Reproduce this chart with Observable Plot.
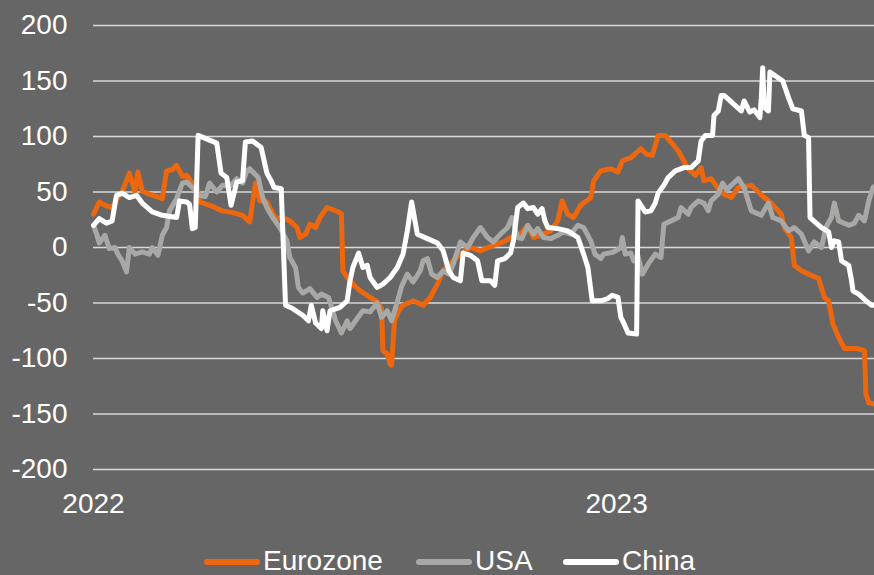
<!DOCTYPE html>
<html>
<head>
<meta charset="utf-8">
<script src="https://cdn.jsdelivr.net/npm/d3@7"></script>
<script src="https://cdn.jsdelivr.net/npm/@observablehq/plot@0.6"></script>
<style>
  html, body { margin: 0; padding: 0; background: #666666; }
  #wrap { position: relative; width: 874px; height: 575px; background: #666666; overflow: hidden; font-family: "Liberation Sans", Arial, sans-serif; }
  .sw { position: absolute; height: 6px; border-radius: 3px; top: 559px; }
  .lt { position: absolute; top: 547px; font-size: 28px; line-height: 28px; color: #ffffff; white-space: nowrap; }
</style>
</head>
<body>
<div id="wrap"></div>
<script>
// ---- Data ----
const seriesNames = ["Eurozone", "USA", "China"];
const seriesColors = ["#ec670e", "#a8a8a6", "#ffffff"];
const yTicks = [-200, -150, -100, -50, 0, 50, 100, 150, 200];
const xTickDates = ["2022-01-01", "2023-01-01"];
const xTickLabels = ["2022", "2023"];

const eurozone = [
  ["2022-01-01",30],["2022-01-05",41],["2022-01-09",38],["2022-01-14",36],["2022-01-18",45],["2022-01-21",50],
  ["2022-01-26",67],["2022-01-30",50],["2022-02-01",68],["2022-02-04",51],["2022-02-09",48],["2022-02-18",44],
  ["2022-02-21",69],["2022-02-25",70],["2022-02-28",74],["2022-03-04",64],["2022-03-07",65],["2022-03-11",58],
  ["2022-03-14",57],["2022-03-16",41],["2022-03-23",38],["2022-04-01",33],["2022-04-10",31],["2022-04-15",29],
  ["2022-04-20",23],["2022-04-24",58],["2022-04-27",42],["2022-05-02",41],["2022-05-08",26],["2022-05-13",27],
  ["2022-05-18",24],["2022-05-23",18],["2022-05-25",9],["2022-05-29",12],["2022-06-01",21],["2022-06-05",18],
  ["2022-06-08",27],["2022-06-13",36],["2022-06-21",32],["2022-06-23",30],["2022-06-24",-21],["2022-06-27",-27],
  ["2022-07-01",-33],["2022-07-06",-39],["2022-07-13",-45],["2022-07-18",-49],["2022-07-21",-55],["2022-07-22",-93],
  ["2022-07-25",-96],["2022-07-27",-105],["2022-07-28",-106],["2022-07-30",-66],["2022-08-02",-57],["2022-08-05",-52],
  ["2022-08-12",-48],["2022-08-19",-52],["2022-08-24",-45],["2022-08-29",-33],["2022-09-02",-21],["2022-09-09",-12],
  ["2022-09-14",-6],["2022-09-21",0],["2022-09-28",-3],["2022-10-07",2],["2022-10-14",5],["2022-10-19",9],
  ["2022-10-26",12],["2022-10-31",20],["2022-11-04",9],["2022-11-09",11],["2022-11-16",15],["2022-11-21",24],
  ["2022-11-24",42],["2022-11-28",30],["2022-12-02",27],["2022-12-07",38],["2022-12-14",45],["2022-12-16",60],
  ["2022-12-21",69],["2022-12-28",71],["2023-01-02",68],["2023-01-05",78],["2023-01-11",81],["2023-01-18",89],
  ["2023-01-22",84],["2023-01-26",83],["2023-01-30",101],["2023-02-04",101],["2023-02-08",95],["2023-02-13",87],
  ["2023-02-17",78],["2023-02-20",71],["2023-02-25",65],["2023-03-01",72],["2023-03-03",60],["2023-03-08",62],
  ["2023-03-13",53],["2023-03-17",48],["2023-03-22",45],["2023-03-27",54],["2023-04-05",56],["2023-04-14",45],
  ["2023-04-19",40],["2023-04-26",30],["2023-04-28",18],["2023-05-03",9],["2023-05-05",-16],["2023-05-10",-21],
  ["2023-05-15",-24],["2023-05-22",-28],["2023-05-26",-45],["2023-05-29",-48],["2023-06-01",-69],["2023-06-05",-81],
  ["2023-06-09",-91],["2023-06-18",-91],["2023-06-23",-93],["2023-06-24",-132],["2023-06-26",-140],["2023-06-30",-141]
];

const usa = [
  ["2022-01-01",20],["2022-01-03",13],["2022-01-05",4],["2022-01-09",11],["2022-01-12",-1],["2022-01-16",0],
  ["2022-01-18",-6],["2022-01-21",-12],["2022-01-24",-22],["2022-01-26",0],["2022-01-30",-6],["2022-02-04",-4],
  ["2022-02-09",-6],["2022-02-11",0],["2022-02-15",-7],["2022-02-18",11],["2022-02-21",18],["2022-02-23",33],
  ["2022-02-28",44],["2022-03-04",58],["2022-03-07",59],["2022-03-11",54],["2022-03-16",47],["2022-03-20",46],
  ["2022-03-23",58],["2022-03-28",50],["2022-04-01",56],["2022-04-06",55],["2022-04-11",62],["2022-04-15",58],
  ["2022-04-18",69],["2022-04-20",71],["2022-04-26",63],["2022-04-29",45],["2022-05-02",36],["2022-05-06",27],
  ["2022-05-11",18],["2022-05-16",6],["2022-05-18",-9],["2022-05-22",-18],["2022-05-24",-36],["2022-05-27",-41],
  ["2022-06-01",-37],["2022-06-06",-45],["2022-06-09",-42],["2022-06-14",-45],["2022-06-19",-66],["2022-06-23",-77],
  ["2022-06-27",-66],["2022-06-29",-73],["2022-07-04",-64],["2022-07-08",-57],["2022-07-13",-58],["2022-07-18",-50],
  ["2022-07-21",-63],["2022-07-25",-57],["2022-07-28",-66],["2022-08-01",-49],["2022-08-04",-35],["2022-08-08",-24],
  ["2022-08-12",-31],["2022-08-17",-21],["2022-08-19",-12],["2022-08-22",-10],["2022-08-25",-24],["2022-08-29",-27],
  ["2022-09-02",-21],["2022-09-06",-24],["2022-09-09",-15],["2022-09-14",5],["2022-09-19",0],["2022-09-23",9],
  ["2022-09-28",18],["2022-10-03",9],["2022-10-07",5],["2022-10-12",12],["2022-10-17",18],["2022-10-20",27],
  ["2022-10-24",9],["2022-10-27",8],["2022-10-31",20],["2022-11-04",12],["2022-11-07",17],["2022-11-11",9],
  ["2022-11-16",8],["2022-11-21",11],["2022-11-25",14],["2022-11-30",12],["2022-12-05",20],["2022-12-09",18],
  ["2022-12-14",6],["2022-12-17",-6],["2022-12-21",-10],["2022-12-23",-6],["2022-12-30",-4],["2023-01-04",0],
  ["2023-01-05",9],["2023-01-07",-6],["2023-01-11",-5],["2023-01-13",-12],["2023-01-16",-8],["2023-01-19",-24],
  ["2023-01-23",-15],["2023-01-28",-6],["2023-02-01",-9],["2023-02-03",21],["2023-02-08",24],["2023-02-13",27],
  ["2023-02-15",36],["2023-02-20",30],["2023-02-22",36],["2023-02-27",42],["2023-03-03",40],["2023-03-06",33],
  ["2023-03-08",42],["2023-03-13",48],["2023-03-16",58],["2023-03-19",52],["2023-03-22",56],["2023-03-27",62],
  ["2023-03-31",54],["2023-04-05",33],["2023-04-12",29],["2023-04-17",40],["2023-04-20",27],["2023-04-26",24],
  ["2023-05-01",15],["2023-05-05",18],["2023-05-10",12],["2023-05-15",-3],["2023-05-19",5],["2023-05-24",0],
  ["2023-05-27",18],["2023-05-31",27],["2023-06-02",40],["2023-06-05",24],["2023-06-12",20],["2023-06-16",22],
  ["2023-06-19",29],["2023-06-23",24],["2023-06-26",42],["2023-06-29",54],["2023-06-30",55]
];

const china = [
  ["2022-01-01",20],["2022-01-05",26],["2022-01-10",22],["2022-01-14",24],["2022-01-17",47],["2022-01-21",49],
  ["2022-01-26",45],["2022-01-31",47],["2022-02-04",40],["2022-02-11",32],["2022-02-18",29],["2022-02-28",27],
  ["2022-03-02",42],["2022-03-07",41],["2022-03-09",39],["2022-03-11",17],["2022-03-13",18],["2022-03-15",101],
  ["2022-03-28",94],["2022-03-31",67],["2022-04-04",63],["2022-04-07",38],["2022-04-11",59],["2022-04-15",60],
  ["2022-04-17",95],["2022-04-22",96],["2022-04-28",90],["2022-05-02",67],["2022-05-05",60],["2022-05-07",54],
  ["2022-05-12",53],["2022-05-15",-52],["2022-05-20",-55],["2022-05-27",-61],["2022-05-31",-66],["2022-06-02",-52],
  ["2022-06-05",-68],["2022-06-09",-73],["2022-06-10",-57],["2022-06-13",-75],["2022-06-15",-57],["2022-06-22",-54],
  ["2022-06-27",-48],["2022-06-29",-30],["2022-07-01",-18],["2022-07-05",-5],["2022-07-08",-18],["2022-07-11",-16],
  ["2022-07-13",-27],["2022-07-18",-36],["2022-07-22",-33],["2022-07-27",-27],["2022-08-01",-18],["2022-08-05",-6],
  ["2022-08-08",15],["2022-08-11",41],["2022-08-15",12],["2022-08-22",8],["2022-08-29",4],["2022-09-02",-3],
  ["2022-09-06",-21],["2022-09-09",-27],["2022-09-14",-30],["2022-09-16",-5],["2022-09-21",-7],["2022-09-26",-12],
  ["2022-09-29",-30],["2022-10-05",-30],["2022-10-08",-34],["2022-10-10",-12],["2022-10-15",-10],["2022-10-19",-5],
  ["2022-10-21",6],["2022-10-24",36],["2022-10-28",40],["2022-10-31",35],["2022-11-04",36],["2022-11-07",30],
  ["2022-11-10",35],["2022-11-12",24],["2022-11-14",18],["2022-11-21",17],["2022-11-28",15],["2022-12-05",9],
  ["2022-12-09",-6],["2022-12-12",-18],["2022-12-15",-48],["2022-12-21",-48],["2022-12-26",-46],["2022-12-29",-43],
  ["2023-01-02",-45],["2023-01-04",-63],["2023-01-06",-68],["2023-01-09",-77],["2023-01-15",-78],["2023-01-16",42],
  ["2023-01-21",32],["2023-01-25",33],["2023-01-28",40],["2023-01-30",49],["2023-02-03",56],["2023-02-06",63],
  ["2023-02-11",69],["2023-02-17",72],["2023-02-22",72],["2023-02-27",78],["2023-03-01",96],["2023-03-04",101],
  ["2023-03-09",101],["2023-03-10",119],["2023-03-13",123],["2023-03-15",137],["2023-03-17",137],["2023-03-29",123],
  ["2023-03-31",132],["2023-04-04",122],["2023-04-07",124],["2023-04-11",117],["2023-04-12",135],["2023-04-13",162],
  ["2023-04-14",126],["2023-04-17",123],["2023-04-18",158],["2023-04-27",150],["2023-05-01",135],["2023-05-04",125],
  ["2023-05-10",123],["2023-05-12",101],["2023-05-15",99],["2023-05-16",27],["2023-05-24",18],["2023-05-29",14],
  ["2023-05-31",0],["2023-06-02",6],["2023-06-05",5],["2023-06-07",-12],["2023-06-12",-16],["2023-06-14",-30],
  ["2023-06-15",-39],["2023-06-19",-42],["2023-06-24",-48],["2023-06-28",-52],["2023-06-30",-52]
];

// ---- Build table ----
const seriesData = [eurozone, usa, china];
const rows = [];
seriesData.forEach((s, i) => s.forEach(([d, v]) => rows.push({series: seriesNames[i], date: new Date(d), value: v})));

const chart = Plot.plot({
  width: 874,
  height: 530,
  marginLeft: 93,
  marginRight: 0,
  marginTop: 25,
  marginBottom: 61,
  style: {background: "#666666", color: "#ffffff", fontFamily: "'Liberation Sans', Arial, sans-serif", fontSize: "28px", overflow: "visible"},
  x: {type: "utc", domain: [new Date("2022-01-01"), new Date("2023-06-30")]},
  y: {domain: [-200, 200]},
  color: {domain: seriesNames, range: seriesColors},
  marks: [
    Plot.gridY(yTicks, {stroke: "#d9d9d9", strokeOpacity: 1, strokeWidth: 1.6}),
    Plot.axisY(yTicks, {tickSize: 0, tickPadding: 26, fill: "#ffffff", fontSize: 28, tickFormat: d => String(d), label: null}),
    Plot.axisX(xTickDates.map(d => new Date(d)), {tickSize: 0, tickPadding: 24, fill: "#ffffff", fontSize: 28, tickFormat: (d, i) => xTickLabels[i], label: null}),
    Plot.line(rows, {x: "date", y: "value", z: "series", stroke: "series", strokeWidth: 5, strokeLinejoin: "round", strokeLinecap: "round"})
  ]
});

const wrap = document.getElementById("wrap");
wrap.appendChild(chart);

// ---- Legend (HTML, below the SVG) ----
const legendPos = [
  {sw: 204, swW: 56, tx: 263},
  {sw: 416, swW: 56, tx: 475},
  {sw: 563, swW: 56, tx: 622}
];
seriesNames.forEach((name, i) => {
  const sw = document.createElement("div");
  sw.className = "sw";
  sw.style.left = legendPos[i].sw + "px";
  sw.style.width = legendPos[i].swW + "px";
  sw.style.background = seriesColors[i];
  wrap.appendChild(sw);
  const t = document.createElement("span");
  t.className = "lt";
  t.style.left = legendPos[i].tx + "px";
  t.textContent = name;
  wrap.appendChild(t);
});
</script>
</body>
</html>
